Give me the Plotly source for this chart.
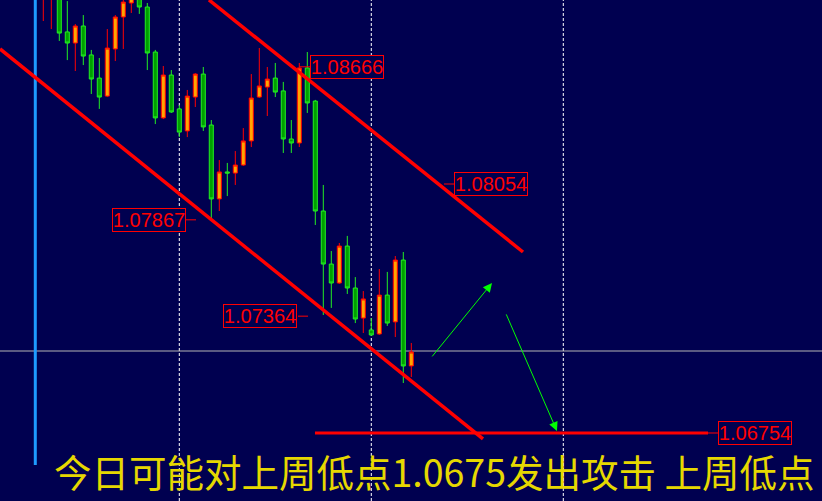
import plotly.graph_objects as go

# ---------------- data ----------------
candle_index = list(range(47))
open_ = [1.09030, 1.09025, 1.09067, 1.08848, 1.08790, 1.08879, 1.08728, 1.08607, 1.08513, 1.08759,
         1.08926, 1.08999, 1.09056, 1.08978, 1.08743, 1.08399, 1.08623, 1.08446, 1.08331, 1.08508,
         1.08628, 1.08362, 1.07976, 1.08117, 1.08111, 1.08153, 1.08279, 1.08508, 1.08560, 1.08607,
         1.08540, 1.08289, 1.08268, 1.08660, 1.08487, 1.07913, 1.07636, 1.07537, 1.07730, 1.07511,
         1.07354, 1.07292, 1.07271, 1.07474, 1.07334, 1.07657, 1.07104]
high_ = [1.09145, 1.09119, 1.09093, 1.09009, 1.08889, 1.08936, 1.08754, 1.08712, 1.08863, 1.08936,
         1.09030, 1.09077, 1.09067, 1.08999, 1.08754, 1.08670, 1.08649, 1.08466, 1.08545, 1.08633,
         1.08665, 1.08388, 1.08179, 1.08164, 1.08226, 1.08346, 1.08628, 1.08764, 1.08665, 1.08686,
         1.08587, 1.08388, 1.08686, 1.08743, 1.08493, 1.08049, 1.07704, 1.07746, 1.07783, 1.07568,
         1.07495, 1.07354, 1.07610, 1.07595, 1.07678, 1.07699, 1.07224]
low_ = [1.08905, 1.08863, 1.08801, 1.08701, 1.08644, 1.08675, 1.08524, 1.08446, 1.08508, 1.08696,
        1.08759, 1.08947, 1.08942, 1.08649, 1.08367, 1.08393, 1.08425, 1.08299, 1.08299, 1.08456,
        1.08331, 1.07866, 1.07913, 1.07991, 1.08049, 1.08148, 1.08247, 1.08503, 1.08409, 1.08508,
        1.08216, 1.08216, 1.08247, 1.08425, 1.07840, 1.07370, 1.07407, 1.07532, 1.07480, 1.07328,
        1.07276, 1.07261, 1.07266, 1.07313, 1.07255, 1.07015, 1.07046]
close_ = [1.09119, 1.09093, 1.08842, 1.08790, 1.08879, 1.08722, 1.08602, 1.08508, 1.08764, 1.08926,
          1.09004, 1.09056, 1.08978, 1.08738, 1.08399, 1.08623, 1.08430, 1.08325, 1.08513, 1.08628,
          1.08352, 1.07976, 1.08117, 1.08111, 1.08153, 1.08279, 1.08503, 1.08566, 1.08602, 1.08534,
          1.08289, 1.08268, 1.08660, 1.08477, 1.07913, 1.07636, 1.07537, 1.07730, 1.07511, 1.07349,
          1.07454, 1.07266, 1.07474, 1.07328, 1.07657, 1.07104, 1.07177]

# trend channel (candle index, price)
upper_channel = [(20.71, 1.09015), (59.96, 1.07699)]
lower_channel = [(-5.41, 1.08759), (54.96, 1.06723)]
# target level line
target_level = 1.06754
target_span = [33.96, 83.09]
# day separators (candle index)
day_separators = [17, 41, 65]
current_price = 1.07182
cursor_index = -1
cursor_low = 1.06587
# price labels: (text, price, left index, tick from, tick to)
price_labels = [
    ("1.08666", 1.08666, 33.34, 31.96, 33.34),
    ("1.08054", 1.08054, 51.34, 50.09, 51.34),
    ("1.07867", 1.07867, 8.59, 17.84, 19.09),
    ("1.07364", 1.07364, 22.46, 31.84, 33.09),
    ("1.06754", 1.06754, 84.34, 83.09, 84.34),
]
# green forecast arrows: (tail index, tail price, head index, head price)
arrows = [
    (48.46, 1.07146, 56.09, 1.07537),
    (57.79, 1.07381, 64.21, 1.06764),
]
caption = "今日可能对上周低点1.0675发出攻击 上周低点"

x_range = [-5.4125, 97.3375]
y_range = [1.063989, 1.090147]

BG = "#000050"
RED = "#FF0000"

fig = go.Figure()

fig.add_trace(go.Candlestick(
    x=candle_index, open=open_, high=high_, low=low_, close=close_,
    increasing=dict(line=dict(color=RED, width=1), fillcolor="#FFA500"),
    decreasing=dict(line=dict(color="#22EE22", width=1), fillcolor="#00A000"),
    whiskerwidth=0, hoverinfo="skip", showlegend=False,
))

shapes = []
for d in day_separators:
    shapes.append(dict(type="line", xref="x", yref="paper", x0=d, x1=d, y0=0, y1=1,
                       layer="below", line=dict(color="white", width=1, dash="3px,2px")))
shapes.append(dict(type="line", xref="paper", yref="y", x0=0, x1=1, y0=current_price, y1=current_price,
                   layer="below", line=dict(color="#B4B4B4", width=1)))
shapes.append(dict(type="line", xref="x", yref="y", x0=cursor_index, x1=cursor_index,
                   y0=cursor_low, y1=y_range[1] + 0.001, line=dict(color="#1E9BFF", width=3)))
for ch in (upper_channel, lower_channel):
    shapes.append(dict(type="line", xref="x", yref="y", x0=ch[0][0], y0=ch[0][1], x1=ch[1][0], y1=ch[1][1],
                       line=dict(color=RED, width=3.5)))
shapes.append(dict(type="line", xref="x", yref="y", x0=target_span[0], x1=target_span[1],
                   y0=target_level, y1=target_level, line=dict(color=RED, width=3)))
for txt, p, left, t0, t1 in price_labels:
    shapes.append(dict(type="line", xref="x", yref="y", x0=t0, x1=t1, y0=p, y1=p,
                       line=dict(color=RED, width=1)))

annotations = []
for txt, p, left, t0, t1 in price_labels:
    annotations.append(dict(
        x=left, y=p, xref="x", yref="y", xanchor="left", yanchor="middle",
        text=txt, showarrow=False, bgcolor=BG, bordercolor=RED, borderwidth=1, borderpad=0,
        width=72, height=22,
        font=dict(family="Liberation Sans, Arial, sans-serif", size=20, color=RED),
    ))
for tx, ty, hx, hy in arrows:
    annotations.append(dict(
        x=hx, y=hy, ax=tx, ay=ty, xref="x", yref="y", axref="x", ayref="y",
        text="", showarrow=True, arrowhead=2, arrowsize=1.8, arrowwidth=1, arrowcolor="#00FF00",
    ))
annotations.append(dict(
    x=52 / 822, y=1 - 470 / 501, xref="paper", yref="paper", xanchor="left", yanchor="middle",
    text=caption, showarrow=False,
    font=dict(family="Noto Sans CJK SC", size=37.5, color="#E6D800"),
))

fig.update_layout(
    width=822, height=501, margin=dict(l=0, r=0, t=0, b=0),
    paper_bgcolor=BG, plot_bgcolor=BG, boxgap=0.28,
    xaxis=dict(range=x_range, visible=False, showgrid=False, zeroline=False, rangeslider=dict(visible=False)),
    yaxis=dict(range=y_range, visible=False, showgrid=False, zeroline=False),
    shapes=shapes, annotations=annotations, showlegend=False,
)

fig.write_html("out.html", config={"displayModeBar": False},
               post_script="document.body.style.margin='0';document.body.style.overflow='hidden';")
